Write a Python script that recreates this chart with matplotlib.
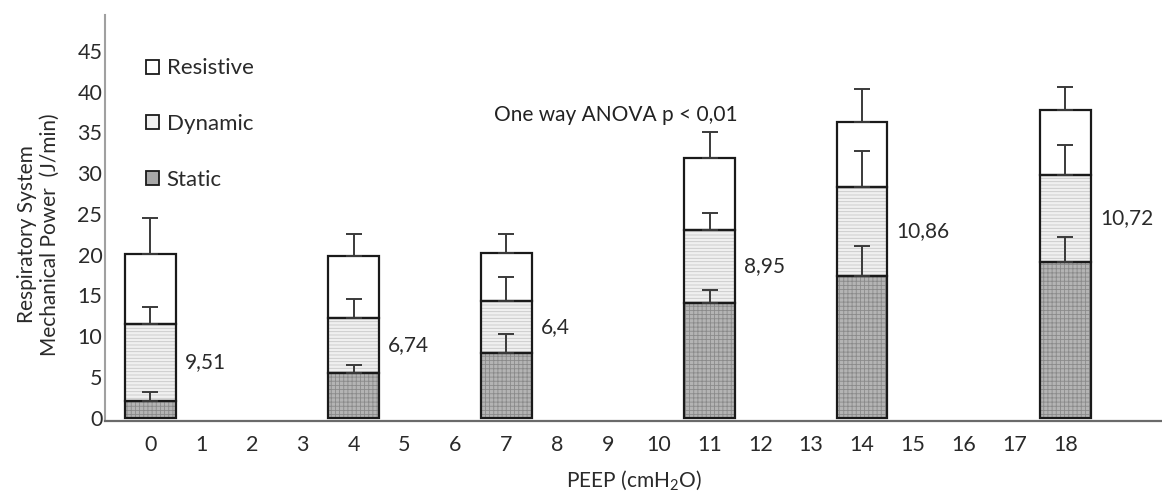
import matplotlib
matplotlib.use("Agg")
import matplotlib.pyplot as plt
from matplotlib.patches import Patch

plt.rcParams["font.family"] = ["Lato", "DejaVu Sans"]
plt.rcParams["hatch.linewidth"] = 0.6
plt.rcParams["mathtext.fontset"] = "custom"
plt.rcParams["mathtext.rm"] = "Lato"

# data
peep = [0, 4, 7, 11, 14, 18]
static = [2.0, 5.5, 7.9, 14.1, 17.4, 19.1]
static_err = [1.1, 0.9, 2.3, 1.6, 3.6, 3.1]
dynamic = [9.51, 6.74, 6.4, 8.95, 10.86, 10.72]
dynamic_err = [2.1, 2.3, 2.9, 2.0, 4.5, 3.6]
resistive = [8.6, 7.6, 5.9, 8.85, 8.0, 7.9]
resistive_err = [4.4, 2.7, 2.3, 3.2, 4.1, 2.9]
xticks = list(range(19))

dyn_bottom = static
res_bottom = [s + d for s, d in zip(static, dynamic)]
tops = [b + r for b, r in zip(res_bottom, resistive)]

fig = plt.figure(figsize=(11.62, 5.04), dpi=100)
ax = fig.add_axes([0.0904, 0.165, 0.9096, 0.805])

width = 1.0
# static: grey with fine grid
ax.bar(peep, static, width=width, color="#b4b4b4", edgecolor="#8a8a8a",
       hatch="++++", linewidth=0, zorder=2)
# dynamic: light grey with faint dashes
ax.bar(peep, dynamic, bottom=dyn_bottom, width=width, color="#f0f0f0",
       edgecolor="#c8c8c8", hatch="-----", linewidth=0, zorder=2)
ax.bar(peep, resistive, bottom=res_bottom, width=width, color="white",
       linewidth=0, zorder=2)
# outlines
for vals, bots in [(static, None), (dynamic, dyn_bottom), (resistive, res_bottom)]:
    ax.bar(peep, vals, bottom=bots, width=width, fill=False,
           edgecolor="#1a1a1a", linewidth=1.6, zorder=3)

# error bars (upper only)
for tvals, errs in [(static, static_err), (res_bottom, dynamic_err), (tops, resistive_err)]:
    ax.errorbar(peep, tvals, yerr=[[0] * len(errs), errs], fmt="none",
                ecolor="#3a3a3a", elinewidth=1.4, capsize=6, capthick=1.4,
                zorder=4)

# dynamic values beside each bar
for x, b, d in zip(peep, dyn_bottom, dynamic):
    ax.text(x + 0.68, b + d / 2, f"{d:g}".replace(".", ","), ha="left",
            va="center", fontsize=15, color="#2a2a2a")

ax.text(9.16, 37.2, "One way ANOVA p < 0,01", ha="center", va="center",
        fontsize=15, color="#222222")

ax.set_xlim(-0.89, 19.9)
ax.set_ylim(-0.4, 49.4)
ax.set_xticks(xticks)
ax.set_yticks(range(0, 50, 5))
ax.tick_params(length=0, labelsize=15.5, colors="#2a2a2a")
ax.tick_params(axis="x", pad=10)
ax.tick_params(axis="y", pad=2)

for s in ["top", "right"]:
    ax.spines[s].set_visible(False)
ax.spines["left"].set_color("#a0a0a0")
ax.spines["left"].set_linewidth(1.5)
ax.spines["bottom"].set_color("#6a6a6a")
ax.spines["bottom"].set_linewidth(1.6)

ax.set_xlabel("PEEP (cmH$_\\mathregular{2}$O)", fontsize=15, color="#2a2a2a",
              labelpad=10)
ax.set_ylabel("Respiratory System\nMechanical Power  (J/min)", fontsize=15,
              color="#2a2a2a", linespacing=1.15)
ax.yaxis.set_label_coords(-0.043, 0.46)

handles = [
    Patch(facecolor="white", edgecolor="#1a1a1a", linewidth=1.3, label="Resistive"),
    Patch(facecolor="#f0f0f0", edgecolor="#1a1a1a", linewidth=1.3, label="Dynamic"),
    Patch(facecolor="#a8a8a8", edgecolor="#1a1a1a", linewidth=1.3, label="Static"),
]
ax.legend(handles=handles, loc="upper left", bbox_to_anchor=(0.03, 0.915),
          frameon=False, fontsize=16, handlelength=0.6, handleheight=0.6,
          handletextpad=0.35, labelspacing=1.6, borderaxespad=0,
          labelcolor="#2a2a2a")

fig.savefig("out.png", dpi=100)
